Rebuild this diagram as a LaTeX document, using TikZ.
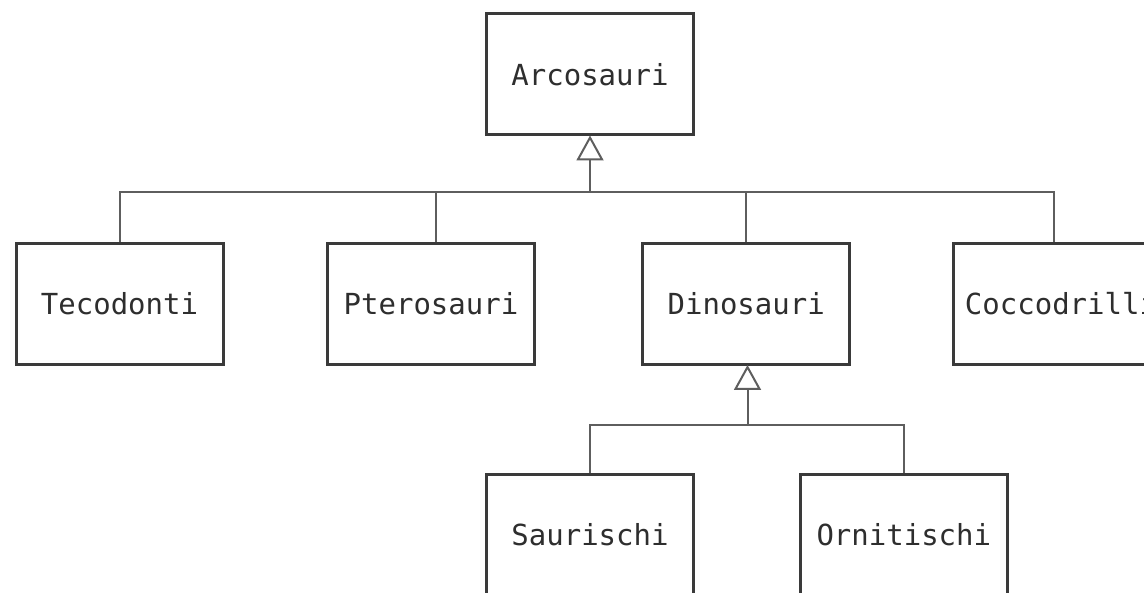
\documentclass[tikz,border=0pt]{standalone}
\usepackage{fontspec}
\setmonofont{DejaVu Sans Mono}
\usetikzlibrary{arrows.meta}
\definecolor{boxline}{HTML}{3A3A3A}
\definecolor{wire}{HTML}{5E5E5E}
\definecolor{txt}{HTML}{2E2E2E}
\begin{document}
\begin{tikzpicture}[x=1pt,y=-1pt,
  taxon/.style={draw=boxline, line width=3pt, fill=white, minimum width=207pt,
    minimum height=121pt, inner sep=0pt, text=txt,
    font=\ttfamily\fontsize{29}{32}\selectfont},
  link/.style={draw=wire, line width=2pt},
  inherit/.style={link, -{Triangle[open, width=27pt, length=25pt, line width=2pt, fill=white]}, shorten >=-1pt}
]
\useasboundingbox (0,0) rectangle (1144,593);

% taxa
\node[taxon] (arco)  at (590,74.5)   {Arcosauri};
\node[taxon] (teco)  at (119.5,304)  {Tecodonti};
\node[taxon] (ptero) at (431,304)    {Pterosauri};
\node[taxon] (dino)  at (746.2,304)  {Dinosauri};
\node[taxon, minimum width=215pt] (cocco) at (1061,304) {Coccodrilli};
\node[taxon] (sauri) at (590,534.7)  {Saurischi};
\node[taxon] (orni)  at (903.8,534.7) {Ornitischi};

% junction points of the two trees
\coordinate (top) at (590,192);
\coordinate (low) at (747.5,425);

% upper tree
\draw[link] (teco.north) |- (top);
\draw[link] (top) -| ([xshift=-7pt]cocco.north);
\draw[link] ([xshift=5pt]ptero.north) -- ([xshift=5pt]ptero.north |- top);
\draw[link] (dino.north) -- (dino.north |- top);
\draw[inherit] (top) -- (arco.south);

% lower tree
\draw[link] (sauri.north) |- (low);
\draw[link] (low) -| (orni.north);
\draw[inherit] (low) -- (low |- dino.south);
\end{tikzpicture}
\end{document}
